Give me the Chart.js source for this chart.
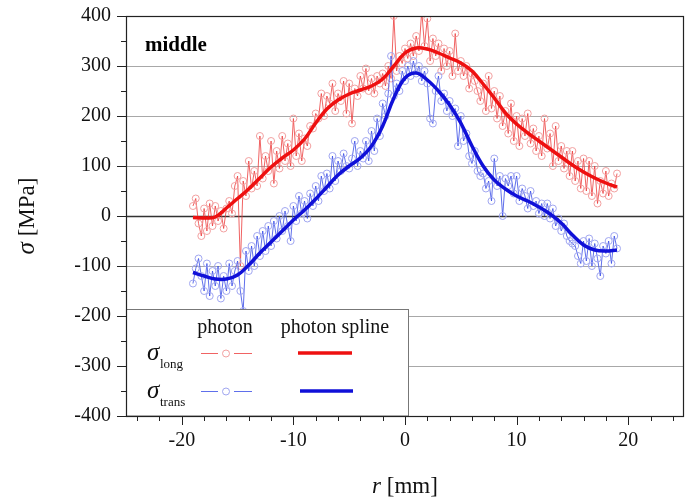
<!DOCTYPE html>
<html>
<head>
<meta charset="utf-8">
<script src="https://cdn.jsdelivr.net/npm/chart.js@4.4.0/dist/chart.umd.min.js"></script>
<style>
  html, body { margin:0; padding:0; background:#fff; }
  #wrap { width:685px; height:501px; }
</style>
</head>
<body>
<div id="wrap"><canvas id="stressChart" width="685" height="501"></canvas></div>
<script>
// =============================
// DATA
// =============================
const rStart = -19;   // first measuring position [mm]
const rStep = 0.25;   // measuring step [mm]

// photon, sigma long
const longRaw = [
  20, 35, -15, -40, 15, -30, 25, -20,
  20, -10, 10, -25, 15, 30, 5, 60,
  80, -100, 70, 40, 110, 55, 90, 60,
  160, 75, 120, 90, 150, 65, 130, 95,
  160, 110, 145, 100, 195, 120, 165, 110,
  155, 140, 180, 175, 205, 195, 245, 200,
  240, 225, 265, 210, 245, 230, 270, 205,
  265, 185, 255, 240, 280, 255, 295, 250,
  275, 245, 280, 265, 285, 260, 300, 275,
  400, 290, 320, 305, 335, 315, 345, 320,
  360, 330, 410, 340, 395, 310, 355, 320,
  345, 290, 335, 300, 330, 280, 365, 290,
  310, 280, 300, 255, 285, 270, 250, 230,
  265, 210, 280, 215, 250, 195, 240, 180,
  210, 165, 225, 150, 200, 140, 195, 160,
  205, 145, 175, 130, 160, 120, 195, 135,
  165, 100, 180, 110, 140, 95, 130, 80,
  130, 70, 110, 55, 115, 50, 110, 40,
  100, 25, 70, 45, 90, 40, 65, 55,
  85
];

// photon, sigma trans
const transRaw = [
  -135, -105, -85, -120, -150, -95, -160, -110,
  -140, -100, -165, -120, -150, -95, -140, -110,
  -90, -150, -190, -70, -110, -60, -100, -40,
  -80, -30, -70, -20, -60, -10, -45, 0,
  -30, 10, -20, -50, 20, -10, 40, 5,
  30, -5, 45, 20, 60, 30, 80, 50,
  85, 55, 120, 70, 110, 90, 125, 100,
  95, 115, 150, 100, 130, 115, 150, 110,
  170, 130, 195, 160, 225, 200, 245, 320,
  240, 265, 250, 290, 270, 300, 280, 310,
  285, 300, 270, 290, 265, 195, 185, 250,
  280, 230, 245, 210, 230, 200, 215, 140,
  200, 150, 165, 120, 105, 130, 90, 80,
  85, 55, 70, 30, 115, 60, 80, 0,
  75, 60, 80, 45, 80, 30, 55, 40,
  15, 50, 20, 30, 5, 25, 0, 25,
  -5, 15, -20, -5, -30, -15, -40, -50,
  -55, -60, -80, -95, -50, -90, -45, -100,
  -55, -85, -120, -60, -75, -50, -95, -40,
  -65
];

// photon spline, 1 mm steps from -19 to 19
const splineR = [
  -19, -18, -17, -16, -15, -14, -13, -12, -11, -10,
  -9, -8, -7, -6, -5, -4, -3, -2, -1, 0,
  1, 2, 3, 4, 5, 6, 7, 8, 9, 10,
  11, 12, 13, 14, 15, 16, 17, 18, 19
];
const longSpline = [
  -3, -4, -2, 16, 35, 54, 76, 98, 116, 132,
  154, 186, 214, 232, 244, 252, 260, 274, 300, 326,
  336, 334, 326, 316, 306, 290, 264, 236, 206, 184,
  166, 150, 134, 118, 102, 88, 76, 66, 58
];
const transSpline = [
  -113, -120, -126, -126, -118, -98, -74, -52, -30, -8,
  12, 34, 58, 82, 100, 116, 140, 180, 236, 276,
  286, 272, 250, 222, 186, 140, 100, 72, 54, 40,
  30, 18, 4, -14, -38, -58, -68, -70, -68
];

const xTickValues = [-20, -10, 0, 10, 20];
const yTickValues = [-400, -300, -200, -100, 0, 100, 200, 300, 400];

// =============================
// BUILD POINTS
// =============================
function toPoints(values){
  return values.map((v, i) => ({ x: rStart + i * rStep, y: v }));
}
function splinePoints(values){
  return values.map((v, i) => ({ x: splineR[i], y: v }));
}

const RED_LINE = "rgba(236,60,60,0.8)";
const RED_DOT = "#f2a0a0";
const BLUE_LINE = "rgba(55,75,230,0.8)";
const BLUE_DOT = "#a0a6f0";
const SERIF = "'Liberation Serif', 'DejaVu Serif', serif";

// =============================
// DECORATION PLUGIN
// =============================
const decor = {
  id: "decor",
  beforeDatasetsDraw(chart){
    const { ctx, chartArea: a, scales: { y } } = chart;
    let y0 = Math.round(y.getPixelForValue(0)) + 0.5;
    ctx.save();
    ctx.strokeStyle = "#333";
    ctx.lineWidth = 1.3;
    ctx.beginPath();
    ctx.moveTo(a.left, y0);
    ctx.lineTo(a.right, y0);
    ctx.stroke();
    ctx.restore();
  },
  afterDatasetsDraw(chart){
    const { ctx, chartArea: a, scales: { x, y } } = chart;
    ctx.save();

    // legend box
    let bx = a.left, by = 309.5, bw = 282, bh = a.bottom - by;
    ctx.fillStyle = "#fff";
    ctx.fillRect(bx, by, bw, bh);
    ctx.strokeStyle = "#777";
    ctx.lineWidth = 1;
    ctx.strokeRect(bx + 0.5, by, bw, bh);

    ctx.fillStyle = "#111";
    ctx.font = "20px " + SERIF;
    ctx.textBaseline = "alphabetic";
    ctx.textAlign = "center";
    ctx.fillText("photon", 225, 333);
    ctx.fillText("photon spline", 335, 333);

    // sigma labels
    ctx.textAlign = "left";
    ctx.font = "italic 25px " + SERIF;
    ctx.fillText("\u03C3", 147, 360);
    ctx.fillText("\u03C3", 147, 398);
    ctx.font = "13px " + SERIF;
    ctx.fillText("long", 160, 368);
    ctx.fillText("trans", 160, 406);

    // raw samples
    function rawSample(yy, line, dot){
      ctx.strokeStyle = line;
      ctx.lineWidth = 1;
      ctx.beginPath();
      ctx.moveTo(201, yy); ctx.lineTo(218, yy);
      ctx.moveTo(234, yy); ctx.lineTo(252, yy);
      ctx.stroke();
      ctx.strokeStyle = dot;
      ctx.beginPath();
      ctx.arc(226, yy, 3.5, 0, Math.PI * 2);
      ctx.stroke();
    }
    rawSample(353.5, RED_LINE, RED_DOT);
    rawSample(391.5, BLUE_LINE, BLUE_DOT);

    // spline samples
    ctx.lineWidth = 3.5;
    ctx.strokeStyle = "#ee1010";
    ctx.beginPath(); ctx.moveTo(298, 353); ctx.lineTo(352, 353); ctx.stroke();
    ctx.strokeStyle = "#1010d8";
    ctx.beginPath(); ctx.moveTo(300, 391); ctx.lineTo(353, 391); ctx.stroke();

    // frame
    ctx.strokeStyle = "#222";
    ctx.lineWidth = 1.2;
    ctx.strokeRect(a.left + 0.5, a.top + 0.5, a.right - a.left - 1, a.bottom - a.top);

    // y ticks (outside)
    ctx.lineWidth = 1;
    ctx.beginPath();
    for (let v = -400; v <= 400; v += 50){
      let py = Math.round(y.getPixelForValue(v)) + 0.5;
      let len = (v % 100 === 0) ? 9 : 5;
      ctx.moveTo(a.left - len, py);
      ctx.lineTo(a.left, py);
    }
    // x ticks (outside)
    for (let v = -24; v <= 24; v += 2){
      let px = Math.round(x.getPixelForValue(v)) + 0.5;
      let len = (v % 10 === 0) ? 9 : 5;
      ctx.moveTo(px, a.bottom);
      ctx.lineTo(px, a.bottom + len);
    }
    ctx.stroke();

    // panel label
    ctx.fillStyle = "#000";
    ctx.font = "bold 21px " + SERIF;
    ctx.textAlign = "left";
    ctx.fillText("middle", 145, 51);

    ctx.restore();
  },
  afterDraw(chart){
    const { ctx, chartArea: a } = chart;
    ctx.save();
    ctx.fillStyle = "#111";
    ctx.textBaseline = "alphabetic";

    // x title
    ctx.font = "italic 23px " + SERIF;
    let w1 = ctx.measureText("r").width;
    ctx.font = "23px " + SERIF;
    let w2 = ctx.measureText(" [mm]").width;
    let sx = (a.left + a.right) / 2 - (w1 + w2) / 2;
    ctx.textAlign = "left";
    ctx.font = "italic 23px " + SERIF;
    ctx.fillText("r", sx, 493);
    ctx.font = "23px " + SERIF;
    ctx.fillText(" [mm]", sx + w1, 493);

    // y title
    ctx.translate(34, (a.top + a.bottom) / 2);
    ctx.rotate(-Math.PI / 2);
    ctx.font = "italic 25px " + SERIF;
    let s1 = ctx.measureText("\u03C3").width;
    ctx.font = "23px " + SERIF;
    let s2 = ctx.measureText(" [MPa]").width;
    let st = -(s1 + s2) / 2;
    ctx.font = "italic 25px " + SERIF;
    ctx.fillText("\u03C3", st, 0);
    ctx.font = "23px " + SERIF;
    ctx.fillText(" [MPa]", st + s1, 0);
    ctx.restore();
  }
};

// =============================
// CHART
// =============================
let ctx = document.getElementById("stressChart");

new Chart(ctx, {
  type: "scatter",
  data: {
    datasets: [
      {
        data: toPoints(longRaw),
        showLine: true,
        borderColor: RED_LINE,
        borderWidth: 1,
        pointRadius: 3.5,
        pointBorderWidth: 1,
        pointBorderColor: RED_DOT,
        pointBackgroundColor: "rgba(0,0,0,0)",
        order: 3
      },
      {
        data: toPoints(transRaw),
        showLine: true,
        borderColor: BLUE_LINE,
        borderWidth: 1,
        pointRadius: 3.5,
        pointBorderWidth: 1,
        pointBorderColor: BLUE_DOT,
        pointBackgroundColor: "rgba(0,0,0,0)",
        order: 2
      },
      {
        data: splinePoints(longSpline),
        showLine: true,
        borderColor: "#ee1010",
        borderWidth: 3.5,
        pointRadius: 0,
        tension: 0.4,
        order: 1
      },
      {
        data: splinePoints(transSpline),
        showLine: true,
        borderColor: "#1010d8",
        borderWidth: 3.5,
        pointRadius: 0,
        tension: 0.4,
        order: 0
      }
    ]
  },
  options: {
    responsive: false,
    animation: false,
    layout: { autoPadding: false, padding: { top: 16, right: 1, left: 0, bottom: 0 } },
    plugins: {
      legend: { display: false },
      tooltip: { enabled: false }
    },
    scales: {
      x: {
        type: "linear",
        min: -25,
        max: 25,
        afterBuildTicks: (s) => { s.ticks = xTickValues.map(v => ({ value: v })); },
        afterFit: (s) => { s.height = 85; s.paddingLeft = 0; s.paddingRight = 0; },
        grid: { display: false, drawTicks: false },
        border: { display: false },
        ticks: {
          color: "#111",
          padding: 13,
          maxRotation: 0,
          font: { family: SERIF, size: 20 }
        }
      },
      y: {
        type: "linear",
        min: -400,
        max: 400,
        afterBuildTicks: (s) => { s.ticks = yTickValues.map(v => ({ value: v })); },
        afterFit: (s) => { s.width = 126; s.paddingTop = 0; s.paddingBottom = 0; },
        grid: {
          drawTicks: false,
          lineWidth: 1,
          color: (c) => (c.tick && c.tick.value === 0) ? "rgba(0,0,0,0)" : "#a8a8a8"
        },
        border: { display: false },
        ticks: {
          color: "#111",
          padding: 15,
          font: { family: SERIF, size: 20 }
        }
      }
    }
  },
  plugins: [decor]
});
</script>
</body>
</html>
